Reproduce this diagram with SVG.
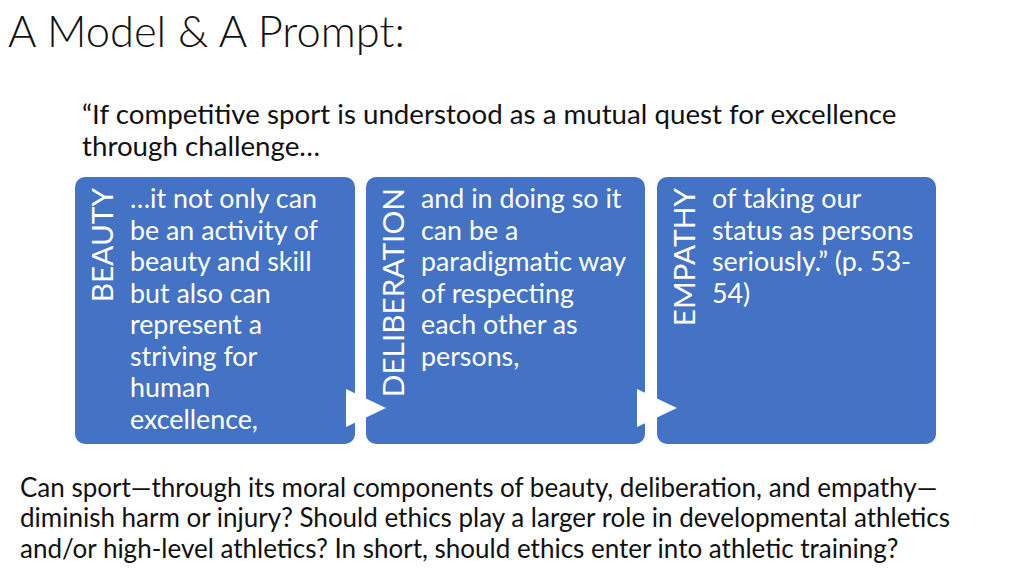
<svg xmlns="http://www.w3.org/2000/svg" width="1024" height="576" viewBox="0 0 1024 576">
<style>
text{font-family:"Lato","Open Sans","Liberation Sans",sans-serif;}
.box{fill:#4472C4;}
.bt{fill:#fff;font-size:26.8px;}
.vt{fill:#fff;font-size:29.8px;text-anchor:end;}
.arr{fill:#fff;}
.dk{fill:#111;}
</style>
<rect width="1024" height="576" fill="#fff"/>
<text x="8" y="47" class="dk" style="font-size:43.5px;font-weight:300">A Model &amp; A Prompt:</text>
<text class="dk" style="font-size:27.7px"><tspan x="82" y="124">“If competitive sport is understood as a mutual quest for excellence</tspan><tspan x="82" y="156">through challenge…</tspan></text>
<g id="node1"><rect class="box" x="75" y="177" width="280" height="267" rx="10"/>
<text class="vt" transform="translate(113,188) rotate(-90)">BEAUTY</text>
<text class="bt"><tspan x="130" y="208">…it not only can</tspan><tspan x="130" y="240">be an activity of</tspan><tspan x="130" y="271">beauty and skill</tspan><tspan x="130" y="303">but also can</tspan><tspan x="130" y="334">represent a</tspan><tspan x="130" y="366">striving for</tspan><tspan x="130" y="397">human</tspan><tspan x="130" y="429">excellence,</tspan></text></g>
<g id="node2"><rect class="box" x="366" y="177" width="279" height="267" rx="10"/>
<text class="vt" transform="translate(404,188) rotate(-90)">DELIBERATION</text>
<text class="bt"><tspan x="421" y="208">and in doing so it</tspan><tspan x="421" y="240">can be a</tspan><tspan x="421" y="271">paradigmatic way</tspan><tspan x="421" y="303">of respecting</tspan><tspan x="421" y="334">each other as</tspan><tspan x="421" y="366">persons,</tspan></text></g>
<g id="node3"><rect class="box" x="657" y="177" width="279" height="267" rx="10"/>
<text class="vt" transform="translate(695,188) rotate(-90)">EMPATHY</text>
<text class="bt"><tspan x="712" y="208">of taking our</tspan><tspan x="712" y="240">status as persons</tspan><tspan x="712" y="271">seriously.” (p. 53-</tspan><tspan x="712" y="303">54)</tspan></text></g>
<g id="connectors">
<polygon class="arr" points="346,389 386,408 346,427"/>
<polygon class="arr" points="637,389 677,408 637,427"/>
</g>
<text class="dk" style="font-size:26px"><tspan x="20" y="497">Can sport—through its moral components of beauty, deliberation, and empathy—</tspan><tspan x="20" y="527">diminish harm or injury? Should ethics play a larger role in developmental athletics</tspan><tspan x="20" y="558">and/or high-level athletics? In short, should ethics enter into athletic training?</tspan></text>
</svg>
